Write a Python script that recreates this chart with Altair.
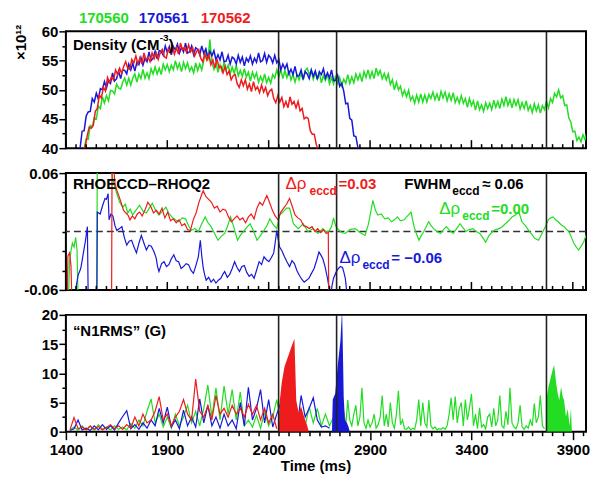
import altair as alt
import pandas as pd

SERIES = ["170560", "170561", "170562"]
COLORS = ["#22dd22", "#1818d8", "#ee1c1c"]
T_MIN, T_MAX = 1400, 3965
EVENT_TIMES = [2449, 2735, 3770]
X_TICKS = list(range(1400, 3951, 50))
W, H = 521, 117

# ---------------- Panel 1: density (x1e12 cm^-3), sampled every 10 ms
DENS_STEP = 10
dens_green_t0 = 1490
dens_green = [
    40.0, 41.6, 41.5, 43.9, 43.7, 45.2, 45.0, 47.2, 46.8, 48.8, 47.7, 49.0, 48.1, 49.9, 49.8, 49.3,
    51.0, 50.3, 50.1, 51.3, 52.0, 50.8, 52.0, 50.8, 52.0, 52.7, 51.3, 52.7, 51.9, 53.5, 52.0, 52.9,
    51.9, 53.6, 52.7, 53.9, 52.7, 53.7, 52.6, 54.4, 53.4, 54.3, 53.1, 54.2, 53.4, 55.0, 53.6, 54.5,
    53.1, 54.7, 53.6, 54.6, 53.2, 53.9, 52.9, 54.6, 53.3, 54.4, 53.4, 55.1, 57.0, 55.0, 58.6, 54.8,
    53.5, 54.7, 53.0, 54.3, 53.2, 54.7, 53.4, 54.2, 52.7, 53.9, 52.8, 54.2, 52.4, 53.3, 52.3, 53.6,
    52.2, 53.0, 51.5, 53.0, 52.0, 52.9, 51.3, 52.3, 51.4, 52.7, 51.2, 52.1, 51.1, 52.6, 52.0, 53.4,
    52.2, 53.4, 51.9, 53.3, 52.1, 53.3, 51.7, 52.6, 51.3, 52.6, 51.7, 52.9, 51.6, 53.3, 53.7, 52.6,
    53.3, 51.8, 53.0, 51.8, 52.9, 51.2, 52.4, 51.6, 52.6, 51.0, 52.1, 51.0, 52.4, 51.1, 52.1, 50.7,
    51.8, 51.1, 52.6, 51.1, 52.2, 51.2, 52.7, 51.7, 52.7, 51.4, 53.1, 52.1, 53.4, 52.0, 53.1, 51.9,
    53.7, 52.5, 53.3, 51.9, 52.8, 51.7, 52.7, 50.9, 51.7, 50.0, 51.3, 50.0, 50.6, 49.0, 49.9, 48.8,
    49.9, 48.2, 48.9, 47.7, 49.1, 47.9, 49.3, 47.9, 49.1, 47.9, 49.2, 48.5, 49.6, 48.3, 49.3, 48.1,
    49.7, 48.6, 49.6, 48.1, 49.3, 48.2, 49.5, 47.8, 48.7, 47.7, 49.0, 47.7, 48.5, 47.0, 48.5, 47.3,
    48.1, 46.5, 48.1, 46.6, 47.4, 46.3, 47.8, 46.8, 47.7, 46.6, 48.2, 47.0, 48.0, 46.8, 48.4, 47.3,
    48.8, 47.3, 48.3, 46.9, 48.3, 47.3, 48.3, 46.7, 47.8, 46.8, 48.1, 46.5, 47.3, 46.1, 47.6, 46.4,
    47.4, 46.0, 47.3, 46.6, 48.0, 46.9, 48.5, 47.8, 49.4, 48.8, 50.0, 48.6, 49.0, 47.3, 47.4, 45.2,
    44.5, 42.8, 42.9, 41.3, 41.9, 41.1, 42.3, 41.5, 42.8]
dens_blue_t0 = 1470
dens_blue = [
    40.0, 42.9, 43.0, 45.5, 46.2, 46.3, 48.5, 47.9, 49.4, 48.4, 50.2, 50.0, 51.4, 50.3, 51.6, 51.1,
    52.9, 51.5, 51.9, 53.2, 51.9, 53.4, 53.3, 52.7, 54.4, 53.4, 54.5, 53.2, 54.7, 54.3, 55.5, 54.2,
    55.4, 54.8, 56.5, 55.0, 55.4, 56.6, 55.3, 56.7, 56.6, 55.9, 57.5, 56.4, 57.4, 56.0, 57.4, 56.8,
    57.8, 56.3, 57.3, 56.5, 58.0, 56.3, 56.5, 57.5, 56.0, 57.2, 56.9, 56.0, 57.5, 56.2, 57.0, 55.4,
    56.6, 55.8, 56.7, 55.1, 56.0, 55.1, 56.5, 54.8, 54.9, 55.9, 54.4, 55.6, 55.3, 54.4, 55.9, 54.7,
    55.6, 54.1, 55.4, 54.8, 55.8, 54.4, 55.4, 54.7, 56.3, 54.8, 55.0, 56.2, 54.7, 55.9, 55.5, 54.6,
    55.9, 54.6, 55.2, 53.4, 54.4, 53.6, 54.4, 52.7, 53.5, 52.6, 54.0, 52.3, 52.4, 53.4, 51.8, 53.1,
    52.7, 51.9, 53.4, 52.3, 53.2, 51.8, 53.1, 52.6, 53.6, 52.0, 52.9, 52.0, 53.4, 51.6, 51.6, 52.5,
    50.6, 51.1, 49.8, 47.6, 47.7, 45.1, 44.8, 42.1, 42.0, 40.1, 39.0]
dens_red_t0 = 1485
dens_red = [
    40.0, 40.2, 42.1, 43.6, 43.4, 43.9, 46.3, 46.8, 49.1, 48.6, 50.4, 49.8, 52.1, 51.3, 52.2, 51.7,
    53.4, 52.6, 53.7, 52.8, 54.0, 54.8, 53.7, 53.5, 55.2, 54.6, 55.8, 54.4, 55.5, 54.4, 56.3, 55.1,
    55.6, 54.8, 56.3, 55.3, 56.3, 55.2, 56.3, 56.9, 55.7, 55.4, 57.0, 56.3, 57.5, 56.1, 57.2, 56.1,
    58.0, 56.8, 57.3, 56.4, 57.7, 56.5, 57.2, 55.8, 56.6, 56.9, 55.4, 54.8, 56.1, 55.1, 56.0, 54.3,
    55.1, 53.7, 55.3, 53.8, 54.0, 52.9, 54.0, 52.6, 53.2, 51.7, 52.4, 52.6, 51.0, 50.4, 51.7, 50.7,
    51.7, 50.1, 51.0, 49.7, 51.4, 50.0, 50.5, 49.5, 50.8, 49.6, 50.4, 49.0, 49.8, 50.1, 48.5, 47.8,
    49.0, 47.9, 48.7, 47.1, 48.0, 46.9, 48.8, 47.5, 48.0, 46.9, 48.0, 46.4, 46.8, 45.0, 45.3, 45.1,
    43.0, 42.4, 42.4, 40.6, 39.5]

# ---------------- Panel 2: RHOECCD - RHOQ2, (time ms, value) pairs
rho_green = [(1410, -0.09), (1418, -0.031), (1425, -0.02), (1432, -0.012), (1440, -0.016), (1448, -0.006),
             (1455, -0.02), (1462, -0.09), (1552, -0.09), (1555, 0.09), (1600, 0.085), (1618, 0.07),
             (1635, 0.05), (1651, 0.039), (1665, 0.03), (1680, 0.025), (1693, 0.028), (1705, 0.019),
             (1717, 0.023), (1729, 0.017), (1746, 0.022), (1763, 0.027), (1780, 0.021), (1797, 0.019),
             (1811, 0.024), (1826, 0.029), (1842, 0.022), (1859, 0.017), (1876, 0.021), (1893, 0.025),
             (1907, 0.019), (1922, 0.015), (1940, 0.012), (1956, 0.010), (1973, 0.014), (1990, 0.013),
             (2005, 0.006), (2019, 0.001), (2036, 0.003), (2053, 0.0), (2070, 0.008), (2087, 0.015),
             (2101, 0.009), (2116, 0.005), (2133, -0.002), (2150, -0.009), (2166, -0.005), (2183, -0.002),
             (2198, 0.006), (2212, 0.015), (2229, 0.004), (2246, -0.009), (2263, -0.003), (2280, 0.001),
             (2295, 0.005), (2309, 0.008), (2326, 0.0), (2343, -0.009), (2360, -0.004), (2377, 0.001),
             (2391, 0.006), (2406, 0.013), (2423, 0.007), (2440, 0.003), (2454, 0.017), (2470, 0.02),
             (2488, 0.024), (2503, 0.024), (2522, 0.008), (2546, 0.003), (2570, 0.008), (2594, 0.0),
             (2619, 0.003), (2643, -0.002), (2667, 0.003), (2682, 0.0), (2696, 0.0), (2710, 0.005),
             (2720, 0.014), (2730, 0.006), (2740, 0.003), (2758, -0.001), (2778, -0.002), (2800, 0.002),
             (2827, 0.003), (2850, -0.001), (2875, -0.004), (2890, 0.006), (2899, 0.015), (2914, 0.032),
             (2926, 0.022), (2938, 0.017), (2955, 0.018), (2972, 0.013), (2990, 0.014), (3006, 0.010),
             (3020, 0.012), (3035, 0.015), (3050, 0.011), (3068, 0.012), (3085, 0.016), (3102, 0.020),
             (3117, 0.005), (3130, -0.003), (3141, -0.009), (3153, -0.004), (3165, 0.0), (3177, 0.005),
             (3189, 0.010), (3201, 0.006), (3213, 0.003), (3230, 0.0), (3247, -0.002), (3262, 0.002),
             (3276, 0.005), (3293, 0.001), (3310, -0.002), (3327, 0.003), (3344, 0.008), (3358, 0.004),
             (3373, 0.0), (3390, 0.002), (3407, 0.003), (3424, 0.0), (3441, -0.002), (3455, -0.006),
             (3470, -0.011), (3487, -0.004), (3504, 0.0), (3520, 0.002), (3537, 0.003), (3552, 0.005),
             (3567, 0.008), (3584, 0.011), (3600, 0.015), (3617, 0.017), (3634, 0.020), (3649, 0.010),
             (3666, 0.006), (3683, 0.001), (3698, -0.003), (3712, -0.007), (3731, -0.009), (3743, -0.004),
             (3755, 0.001), (3767, 0.006), (3779, 0.012), (3791, 0.014), (3803, 0.015), (3816, 0.012),
             (3828, 0.010), (3842, 0.007), (3857, 0.005), (3869, 0.002), (3881, 0.0), (3893, -0.006),
             (3905, -0.012), (3917, -0.016), (3929, -0.019), (3941, -0.015), (3953, -0.011), (3965, -0.004),
             (3970, 0.001)]
rho_blue = [(1440, -0.09), (1448, -0.06), (1460, -0.045), (1473, -0.038), (1480, -0.03), (1487, -0.021),
            (1496, -0.01), (1506, 0.005), (1511, -0.09), (1552, -0.09), (1555, 0.02), (1569, 0.018),
            (1580, 0.026), (1593, 0.034), (1600, 0.033), (1608, 0.039), (1613, 0.012), (1622, 0.018),
            (1632, 0.016), (1642, 0.006), (1651, 0.001), (1664, 0.003), (1676, 0.005), (1688, -0.006),
            (1700, -0.014), (1712, -0.01), (1724, -0.009), (1736, -0.016), (1748, -0.022), (1760, -0.012),
            (1772, -0.004), (1785, -0.012), (1797, -0.019), (1809, -0.014), (1821, -0.015), (1833, -0.02),
            (1845, -0.027), (1852, -0.036), (1859, -0.041), (1872, -0.033), (1884, -0.031), (1896, -0.036),
            (1908, -0.034), (1920, -0.028), (1932, -0.024), (1944, -0.03), (1956, -0.031), (1968, -0.038),
            (1980, -0.036), (1993, -0.033), (2005, -0.034), (2017, -0.04), (2029, -0.043), (2041, -0.035),
            (2053, -0.026), (2063, -0.009), (2070, -0.025), (2077, -0.037), (2085, -0.045), (2092, -0.05),
            (2104, -0.047), (2116, -0.052), (2128, -0.049), (2140, -0.053), (2152, -0.05), (2164, -0.048),
            (2174, -0.044), (2183, -0.041), (2196, -0.047), (2208, -0.044), (2220, -0.038), (2232, -0.031),
            (2244, -0.037), (2256, -0.041), (2268, -0.036), (2280, -0.035), (2292, -0.042), (2304, -0.046),
            (2316, -0.044), (2328, -0.048), (2340, -0.04), (2353, -0.031), (2365, -0.034), (2377, -0.026),
            (2389, -0.029), (2401, -0.031), (2413, -0.027), (2425, -0.022), (2433, -0.01), (2440, 0.001),
            (2447, -0.008), (2454, -0.016), (2466, -0.02), (2478, -0.026), (2490, -0.031), (2503, -0.036),
            (2515, -0.03), (2527, -0.033), (2539, -0.04), (2551, -0.045), (2563, -0.049), (2575, -0.052),
            (2587, -0.05), (2599, -0.048), (2611, -0.043), (2624, -0.038), (2636, -0.03), (2648, -0.021),
            (2657, -0.024), (2667, -0.028), (2678, -0.036), (2690, -0.048), (2698, -0.058), (2706, -0.065),
            (2713, -0.055), (2720, -0.048), (2732, -0.042), (2744, -0.038), (2754, -0.036), (2764, -0.037),
            (2771, -0.042), (2778, -0.048), (2784, -0.06), (2790, -0.07)]
rho_red = [(1405, -0.09), (1410, -0.025), (1418, -0.022), (1425, -0.035), (1432, -0.09), (1625, -0.09),
           (1628, 0.09), (1636, 0.065), (1642, 0.049), (1652, 0.042), (1662, 0.036), (1672, 0.03),
           (1684, 0.022), (1696, 0.019), (1706, 0.017), (1716, 0.012), (1728, 0.016), (1740, 0.013),
           (1752, 0.018), (1764, 0.02), (1776, 0.016), (1790, 0.022), (1804, 0.03), (1818, 0.026),
           (1832, 0.019), (1846, 0.022), (1860, 0.018), (1874, 0.024), (1888, 0.014), (1902, 0.02),
           (1916, 0.011), (1930, 0.013), (1944, 0.009), (1958, 0.012), (1972, 0.006), (1986, 0.008),
           (2000, 0.002), (2014, 0.001), (2028, 0.012), (2042, 0.019), (2056, 0.03), (2070, 0.038),
           (2077, 0.042), (2090, 0.036), (2104, 0.033), (2118, 0.03), (2132, 0.024), (2146, 0.026),
           (2160, 0.02), (2174, 0.023), (2188, 0.022), (2202, 0.015), (2216, 0.01), (2230, 0.013),
           (2244, 0.016), (2258, 0.012), (2272, 0.014), (2286, 0.009), (2300, 0.015), (2314, 0.018),
           (2328, 0.013), (2342, 0.024), (2356, 0.03), (2370, 0.027), (2384, 0.034), (2391, 0.037),
           (2404, 0.03), (2418, 0.022), (2432, 0.016), (2446, 0.012), (2460, 0.02), (2474, 0.024),
           (2488, 0.028), (2503, 0.034), (2516, 0.026), (2530, 0.017), (2544, 0.014), (2558, 0.012),
           (2572, 0.006), (2586, 0.005), (2600, 0.003), (2614, 0.005), (2628, 0.0), (2642, 0.003),
           (2656, -0.001), (2670, 0.002), (2684, -0.002), (2694, -0.001), (2697, -0.09)]

# ---------------- Panel 3: "N1RMS" (G)
N1_STEP = 20
n1_t0 = 1420
n1_green = [0.3, 0.8, 0.2, 1.0, 0.3, 0.9, 0.2, 1.2, 0.4, 0.8, 0.3, 1.0, 0.4, 0.8, 0.3, 1.4, 0.6, 2.0,
            1.0, 3.5, 5.6, 1.5, 3.0, 0.8, 2.5, 0.6, 3.0, 1.0, 2.5, 4.5, 1.5, 3.5, 1.0, 4.0, 8.0, 2.5,
            7.5, 2.0, 7.8, 3.0, 7.2, 2.0, 6.8, 1.0, 2.0, 0.8, 2.8, 0.6, 3.5, 1.0, 2.5, 5.5, 1.5, 4.5,
            1.0, 4.0, 1.5, 3.0, 1.0, 4.2, 1.5, 4.0, 1.0, 3.0, 1.0, 2.5]
N1_LATE_STEP = 10
n1_green_late_t0 = 2740
n1_green_late = [1.0, 5.0, 2.0, 3.5, 1.0, 5.4, 2.0, 1.0, 3.0, 4.5, 1.0, 2.5, 7.5, 1.5, 0.6, 2.0, 0.8, 1.5,
                 3.0, 0.6, 1.2, 2.5, 6.2, 1.0, 3.0, 0.8, 5.0, 1.5, 0.6, 3.0, 7.0, 1.2, 2.0, 0.5, 0.4, 0.8,
                 0.3, 0.6, 0.4, 2.0, 5.5, 1.0, 5.0, 1.5, 0.8, 5.4, 1.0, 0.5, 0.8, 0.3, 0.5, 0.4, 0.7, 0.4,
                 1.0, 3.0, 5.8, 2.0, 6.0, 1.5, 4.0, 5.0, 1.0, 5.5, 2.0, 4.0, 6.5, 1.0, 3.0, 0.5, 4.1, 0.8,
                 1.2, 0.5, 2.5, 3.0, 0.8, 4.0, 1.0, 2.0, 6.2, 1.0, 0.6, 3.5, 1.2, 7.5, 1.5, 0.8, 0.5, 1.5,
                 4.5, 0.8, 0.4, 1.0, 0.6, 2.0, 1.0, 4.8, 1.5, 2.5, 6.2, 1.0, 0.5]
n1_blue = [0.2, 0.5, 2.0, 0.3, 0.6, 0.2, 1.0, 0.3, 1.2, 0.4, 1.0, 0.3, 1.5, 2.6, 3.6, 0.5, 1.2, 0.4,
           1.5, 0.6, 2.0, 1.0, 4.0, 1.5, 4.2, 0.8, 2.0, 0.5, 3.7, 1.0, 2.5, 0.8, 5.6, 1.5, 4.5, 1.0,
           2.5, 0.6, 3.0, 1.0, 2.0, 0.5, 5.0, 1.0, 7.6, 2.0, 4.0, 7.2, 1.5, 5.5, 0.8, 3.0, 5.0, 1.0,
           5.7, 2.0, 0.6, 6.2, 2.5, 4.0, 5.8, 2.0, 0.8, 1.0, 0.6]
n1_red = [0.3, 2.4, 0.5, 0.8, 0.3, 1.0, 0.4, 0.9, 0.3, 0.7, 1.2, 0.5, 1.0, 0.4, 1.2, 0.6, 2.5, 1.0,
          3.0, 1.5, 2.0, 3.5, 6.0, 2.0, 3.0, 1.0, 2.5, 3.5, 5.5, 3.0, 2.0, 9.0, 3.5, 2.5, 4.5, 2.0,
          6.2, 3.0, 4.0, 2.5, 4.5, 3.0, 4.0, 2.5, 4.7, 3.0, 4.5, 2.0, 4.0, 1.5, 3.0, 0.5]
# envelopes of the dense bursts (time ms, G)
burst_red = [(2450, 0), (2454, 5.0), (2464, 8.3), (2478, 11.1), (2490, 12.3), (2503, 13.6), (2515, 14.8),
             (2527, 15.9), (2532, 10.0), (2536, 5.4), (2548, 3.2), (2560, 4.3), (2575, 2.5), (2590, 1.0),
             (2598, 0)]
burst_blue = [(2712, 0), (2716, 5.5), (2728, 6.5), (2740, 11.1), (2754, 15.6), (2762, 21.0), (2766, 14.0),
              (2770, 6.0), (2776, 2.0), (2786, 1.5), (2794, 0.8), (2800, 0)]
burst_green = [(3768, 0), (3772, 6.0), (3780, 7.7), (3792, 9.4), (3800, 10.5), (3808, 11.4), (3818, 8.3),
               (3826, 6.5), (3833, 5.4), (3842, 7.7), (3850, 6.0), (3857, 5.4), (3866, 2.6), (3875, 3.9),
               (3884, 1.0), (3891, 4.0), (3895, 0.2)]


def sampled(t0, step, vals, name):
    return pd.DataFrame({"t": [t0 + step * i for i in range(len(vals))], "v": vals, "s": name})


def paired(pairs, name):
    return pd.DataFrame({"t": [p[0] for p in pairs], "v": [p[1] for p in pairs], "s": name})


color = alt.Color("s:N", scale=alt.Scale(domain=SERIES, range=COLORS), legend=None)
xscale = alt.Scale(domain=[T_MIN, T_MAX], nice=False, zero=False)
FONT = "Liberation Sans"


def label(text, x, y, size=15, col="black", bold=True, angle=0, align="left"):
    return alt.Chart(pd.DataFrame({"a": [0]})).mark_text(
        text=text, font=FONT, fontSize=size, fontWeight="bold" if bold else "normal",
        color=col, align=align, baseline="middle", angle=angle
    ).encode(x=alt.value(x), y=alt.value(y))


def tick_cond(mod, rem, long, short):
    return {"condition": {"test": f"abs(datum.value % {mod} - {rem}) < 1e-6", "value": long}, "value": short}


def inward_ticks():
    d = pd.DataFrame({"t": X_TICKS})
    xe = alt.X("t:Q", scale=xscale, axis=None)
    long_t = alt.Chart(d).transform_filter("datum.t % 500 === 400").mark_rule(
        color="black", strokeWidth=1.5).encode(x=xe, y=alt.value(H), y2=alt.value(H - 8))
    short_t = alt.Chart(d).transform_filter("datum.t % 500 !== 400").mark_rule(
        color="black", strokeWidth=1.5).encode(x=xe, y=alt.value(H), y2=alt.value(H - 4))
    return [long_t, short_t]


def vlines(xe):
    return alt.Chart(pd.DataFrame({"t": EVENT_TIMES})).mark_rule(
        color="#222222", strokeWidth=1.6).encode(x=xe)


# ---------------- Panel 1
x_none = alt.X("t:Q", scale=xscale, axis=None)
y1 = alt.Y("v:Q", scale=alt.Scale(domain=[40, 60], nice=False, zero=False),
           axis=alt.Axis(values=[40, 42.5, 45, 47.5, 50, 52.5, 55, 57.5, 60], title=None, grid=False,
                         domain=False, labelPadding=1,
                         labelExpr="datum.value % 5 === 0 ? datum.label : ''",
                         tickSize=tick_cond(5, 0, 7, 4)))
d1 = pd.concat([sampled(dens_green_t0, DENS_STEP, dens_green, SERIES[0]),
                sampled(dens_blue_t0, DENS_STEP, dens_blue, SERIES[1]),
                sampled(dens_red_t0, DENS_STEP, dens_red, SERIES[2])])
lines1 = alt.Chart(d1).mark_line(clip=True, strokeWidth=1.5).encode(
    x=x_none, y=y1, color=color, detail="s:N", order=alt.Order("t:Q"))
p1 = alt.layer(
    lines1, vlines(x_none), *inward_ticks(),
    label("Density (CM", 7, 14), label("-3", 94, 7, size=10), label(")", 103, 14),
    label(SERIES[0], 13, -13, col=COLORS[0]), label(SERIES[1], 73, -13, col=COLORS[1]),
    label(SERIES[2], 135, -13, col=COLORS[2]),
    label("×10¹²", -45, 11, size=15, angle=270, align="center"),
).properties(width=W, height=H)

# ---------------- Panel 2
y2 = alt.Y("v:Q", scale=alt.Scale(domain=[-0.06, 0.06], nice=False, zero=False),
           axis=alt.Axis(values=[-0.06, -0.04, -0.02, 0, 0.02, 0.04, 0.06], title=None, grid=False,
                         domain=False, labelPadding=1,
                         labelExpr="abs(datum.value) > 0.059 ? (datum.value < 0 ? '-0.06' : '0.06') : ''",
                         tickSize={"condition": {"test": "abs(datum.value) > 0.059", "value": 7}, "value": 4}))
d2 = pd.concat([paired(rho_green, SERIES[0]), paired(rho_blue, SERIES[1]), paired(rho_red, SERIES[2])])
lines2 = alt.Chart(d2).mark_line(clip=True, strokeWidth=1.2).encode(
    x=x_none, y=y2, color=color, detail="s:N", order=alt.Order("t:Q"))
zero = alt.Chart(pd.DataFrame({"v": [0]})).mark_rule(
    color="#333333", strokeDash=[7, 4], strokeWidth=1.3).encode(y=y2)
p2 = alt.layer(
    zero, lines2, vlines(x_none), *inward_ticks(),
    label("RHOECCD–RHOQ2", 7, 11),
    label("Δρ", 220, 11, size=17, col=COLORS[2], bold=False),
    label("eccd", 244, 18, size=12, col=COLORS[2]),
    label("=0.03", 273, 11, col=COLORS[2]),
    label("FWHM", 339, 11),
    label("eccd", 387, 18, size=12),
    label("≈ 0.06", 417, 11),
    label("Δρ", 374, 36, size=17, col=COLORS[0], bold=False),
    label("eccd", 397, 43, size=12, col=COLORS[0]),
    label("=0.00", 426, 36, col=COLORS[0]),
    label("Δρ", 274, 85, size=17, col=COLORS[1], bold=False),
    label("eccd", 297, 92, size=12, col=COLORS[1]),
    label("= −0.06", 326, 85, col=COLORS[1]),
).properties(width=W, height=H)

# ---------------- Panel 3
x3 = alt.X("t:Q", scale=xscale,
           axis=alt.Axis(values=X_TICKS, format="d", grid=False, domain=False, labelOverlap=False,
                         labelFlush=False, labelPadding=3,
                         labelExpr="datum.value % 500 === 400 ? datum.label : ''",
                         tickSize=tick_cond(500, 400, 8, 4),
                         title="Time (ms)", titleFont=FONT, titleFontSize=15, titleFontWeight="bold",
                         titleX=250, titleY=27, titleBaseline="top"))
y3 = alt.Y("v:Q", stack=None, scale=alt.Scale(domain=[0, 20], nice=False, zero=False),
           axis=alt.Axis(values=[0, 2.5, 5, 7.5, 10, 12.5, 15, 17.5, 20], title=None, grid=False,
                         domain=False, labelPadding=1,
                         labelExpr="datum.value % 5 === 0 ? datum.label : ''",
                         tickSize=tick_cond(5, 0, 7, 4)))
d3 = pd.concat([sampled(n1_t0, N1_STEP, n1_green, SERIES[0]),
                sampled(n1_green_late_t0, N1_LATE_STEP, n1_green_late, SERIES[0]),
                sampled(n1_t0, N1_STEP, n1_blue, SERIES[1]),
                sampled(n1_t0, N1_STEP, n1_red, SERIES[2])])
lines3 = alt.Chart(d3).mark_line(clip=True, strokeWidth=1.2).encode(
    x=x3, y=y3, color=color, detail="s:N", order=alt.Order("t:Q"))


def burst(pairs, name, col):
    return alt.Chart(paired(pairs, name)).mark_area(
        clip=True, opacity=1, color=col, interpolate="linear").encode(x=x3, y=y3)


p3 = alt.layer(
    lines3,
    burst(burst_red, SERIES[2], COLORS[2]),
    burst(burst_blue, SERIES[1], COLORS[1]),
    burst(burst_green, SERIES[0], COLORS[0]),
    vlines(x3),
    label("“N1RMS” (G)", 7, 16),
).properties(width=W, height=H)

chart = alt.vconcat(p1, p2, p3, spacing=25, bounds="flush").properties(
    padding={"left": 5, "top": 2, "right": 0, "bottom": 2}
).configure_view(stroke="black", strokeWidth=2).configure_axis(
    labelFont=FONT, labelFontWeight="bold", labelFontSize=15, labelColor="black",
    tickColor="black", tickWidth=1.5
).configure_text(font=FONT)

chart.save("out.html", embed_options={"renderer": "svg", "actions": False})
